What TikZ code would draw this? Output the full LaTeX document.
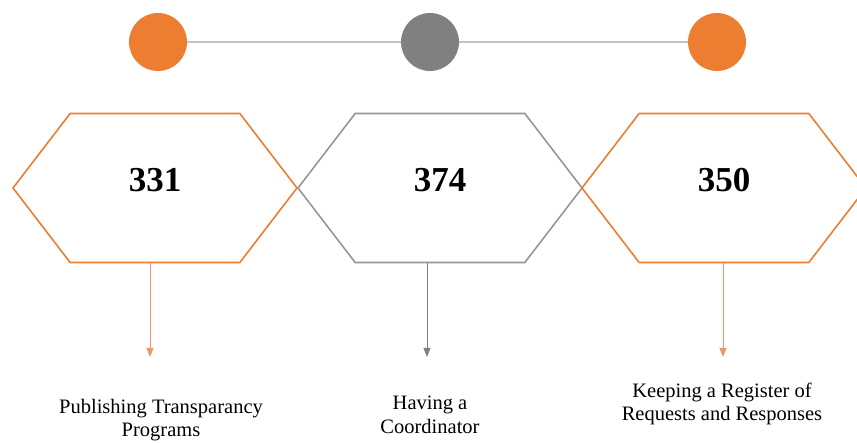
\documentclass[tikz,border=0pt]{standalone}
\usepackage{fontspec}
\setmainfont{Liberation Serif}
\usepackage{tikz}
\usetikzlibrary{positioning,arrows.meta,shapes.symbols}
\definecolor{steporange}{RGB}{237,125,49}
\definecolor{stepgray}{RGB}{128,128,128}
\definecolor{linegray}{RGB}{195,195,195}
\definecolor{hexgray}{RGB}{150,150,150}
\definecolor{arroworange}{RGB}{235,150,110}
\colorlet{arrowgray}{stepgray}
\tikzset{
  hexbox/.style={shape=signal,signal to=east and west,signal pointer angle=105,
    draw=#1,line width=1.6pt,minimum width=284pt,minimum height=149pt,inner sep=0pt,
    font=\fontsize{35}{35}\selectfont\bfseries,text height=23pt,text depth=16pt},
  dot/.style={circle,fill=#1,minimum size=58pt,inner sep=0pt},
  drop/.style={-{Triangle[width=7pt,length=9pt]},line width=1pt,draw=#1},
  caption/.style={align=center,font=\fontsize{20.5}{23.5}\selectfont}
}
\begin{document}
\begin{tikzpicture}[x=1pt,y=-1pt]
  \useasboundingbox (0,0) rectangle (857,443);
  % top row
  \node[dot=steporange] (c1) at (158,42) {};
  \node[dot=stepgray] (c2) at (430,42) {};
  \node[dot=steporange] (c3) at (717,42) {};
  \draw[linegray,line width=2pt] (c1)--(c2);
  \draw[linegray,line width=2pt] (c2)--(c3);
  % hexagons
  \node[hexbox=hexgray] (h2) at (440,188) {374};
  \node[hexbox=steporange] (h1) at (155,188) {331};
  \node[hexbox=steporange] (h3) at (724,188) {350};
  % arrows
  \coordinate (e1) at (150,357);
  \coordinate (e2) at (427,357);
  \coordinate (e3) at (723,357);
  \draw[drop=arroworange] (h1.south -| e1)--(e1);
  \draw[drop=arrowgray] (h2.south -| e2)--(e2);
  \draw[drop=arroworange] (h3.south -| e3)--(e3);
  % captions
  \node[caption] (t1) at (161,420) {Publishing Transparancy\\Programs};
  \node[caption] (t2) at (430,415) {Having a\\Coordinator};
  \node[caption] (t3) at (722,404) {Keeping a Register of\\Requests and Responses};
\end{tikzpicture}
\end{document}
